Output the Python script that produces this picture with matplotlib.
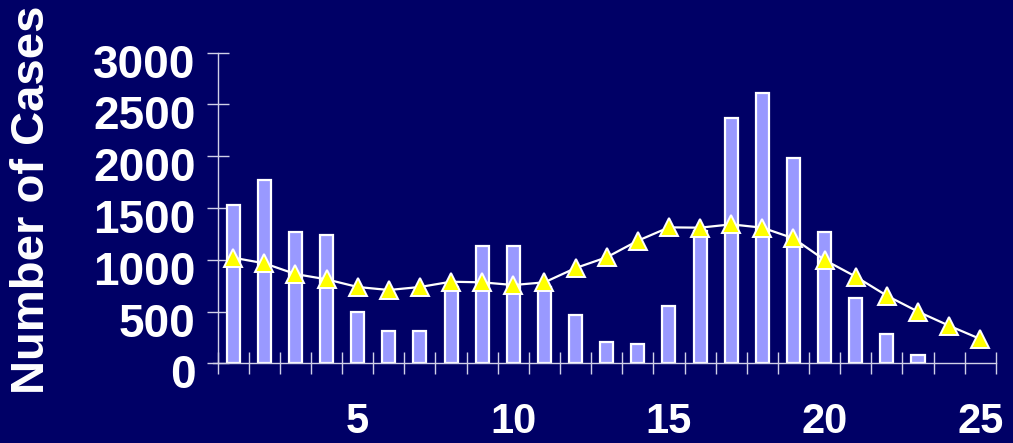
import matplotlib
matplotlib.use("Agg")
import matplotlib.pyplot as plt
from matplotlib.ticker import FixedLocator, NullFormatter
from matplotlib.transforms import ScaledTranslation

weeks = list(range(1, 26))
cases = [1530, 1770, 1265, 1240, 500, 315, 315, 740, 1130, 1130,
         740, 470, 209, 183, 553, 1280, 2370, 2610, 1980, 1265,
         630, 286, 80, 0, 0]
trend = [1020, 966, 862, 811, 737, 708, 737, 788, 782, 756,
         782, 920, 1024, 1184, 1313, 1310, 1342, 1310, 1207, 998,
         837, 653, 499, 363, 235]
xtick_values = [5, 10, 15, 20, 25]
ytick_values = [0, 500, 1000, 1500, 2000, 2500, 3000]
ylabel_text = "Number of Cases"

BG = "#000066"
BAR = "#9999FF"
AXC = "#D0D0E8"

plt.rcParams['font.family'] = ['Liberation Sans', 'DejaVu Sans']

fig = plt.figure(figsize=(10.13, 4.43), dpi=100, facecolor=BG)
ax = fig.add_axes([217.6 / 1013, 79.7 / 443, 778.2 / 1013, 310.6 / 443])
ax.set_facecolor(BG)

edge_colors = ["white" if c > 0 else "none" for c in cases]
ax.bar(weeks, cases, width=0.42, color=BAR, edgecolor=edge_colors,
       linewidth=1.6, zorder=2)
ax.plot(weeks, trend, color="white", linewidth=1.6, marker="^",
        markersize=13, markerfacecolor="#FFFF00", markeredgecolor="white",
        markeredgewidth=1.4, zorder=3)

ax.set_xlim(0.5, 25.5)
ax.set_ylim(0, 3000)

for s in ["top", "right"]:
    ax.spines[s].set_visible(False)
for s in ["left", "bottom"]:
    ax.spines[s].set_color(AXC)
    ax.spines[s].set_linewidth(1.0)
ax.spines["bottom"].set_bounds(0.36, 25.5)

# x ticks: marks at category boundaries, labels at category centres
ax.xaxis.set_minor_locator(FixedLocator([w - 0.5 for w in weeks] + [25.5]))
ax.xaxis.set_minor_formatter(NullFormatter())
ax.set_xticks(xtick_values)
ax.set_xticklabels([str(v) for v in xtick_values])
ax.tick_params(axis="x", which="major", length=0, pad=28,
               labelsize=30, labelcolor="white")
ax.tick_params(axis="x", which="minor", direction="inout", length=16,
               width=1.0, color=AXC)
for lab in ax.get_xticklabels():
    lab.set_fontweight("bold")

ax.set_yticks(ytick_values)
ax.set_yticklabels([str(v) for v in ytick_values])
ax.tick_params(axis="y", which="major", direction="inout", length=16,
               width=1.0, color=AXC, pad=8, labelsize=33, labelcolor="white")
offset = ScaledTranslation(0, -8 / 100, fig.dpi_scale_trans)
for lab in ax.get_yticklabels():
    lab.set_fontweight("bold")
    lab.set_transform(lab.get_transform() + offset)

ax.set_ylabel(ylabel_text, fontsize=34, fontweight="bold", color="white")
ax.yaxis.set_label_coords((54 - 217.6) / 778.2, (363.3 - 200) / 310.6)

fig.savefig("out.png", dpi=100, facecolor=BG)
